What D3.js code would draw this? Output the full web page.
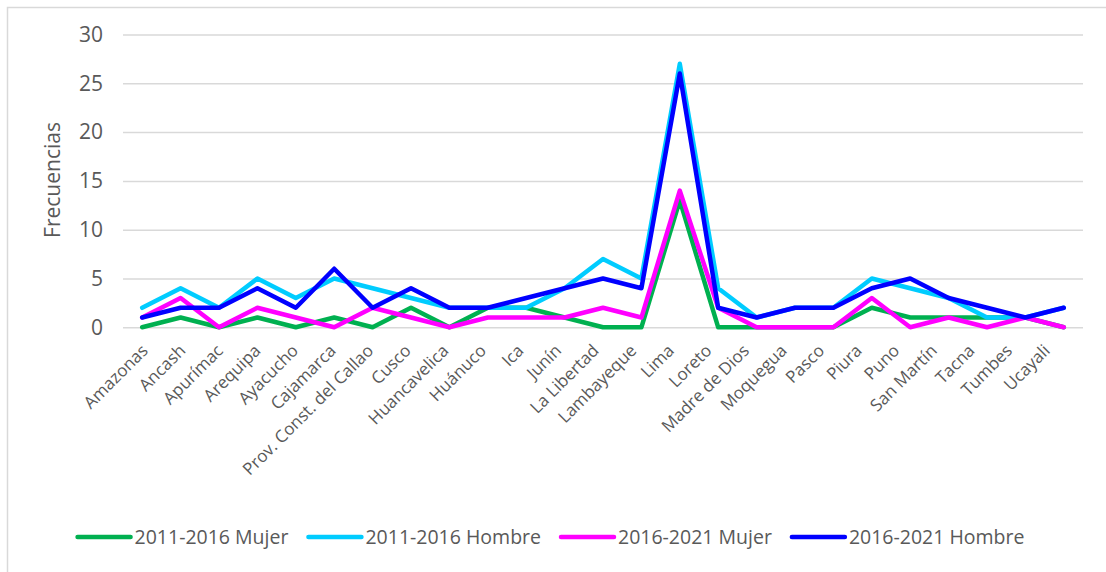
<!DOCTYPE html>
<html>
<head>
<meta charset="utf-8">
<script src="https://cdn.jsdelivr.net/npm/d3@7"></script>
<style>
  body { margin: 0; background: #fff; }
  svg { display: block; font-family: "Open Sans", "Noto Sans", sans-serif; }
</style>
</head>
<body>
<div class="chart-section"></div>
<script>
const categories = [
  "Amazonas", "Ancash", "Apurímac", "Arequipa", "Ayacucho", "Cajamarca",
  "Prov. Const. del Callao", "Cusco", "Huancavelica", "Huánuco", "Ica", "Junín",
  "La Libertad", "Lambayeque", "Lima", "Loreto", "Madre de Dios", "Moquegua",
  "Pasco", "Piura", "Puno", "San Martín", "Tacna", "Tumbes", "Ucayali",
];
const seriesNames = ["2011-2016 Mujer", "2011-2016 Hombre", "2016-2021 Mujer", "2016-2021 Hombre"];
const mujer2011 = [0, 1, 0, 1, 0, 1, 0, 2, 0, 2, 2, 1, 0, 0, 13, 0, 0, 0, 0, 2, 1, 1, 1, 1, 0];
const hombre2011 = [2, 4, 2, 5, 3, 5, 4, 3, 2, 2, 2, 4, 7, 5, 27, 4, 1, 2, 2, 5, 4, 3, 1, 1, 2];
const mujer2016 = [1, 3, 0, 2, 1, 0, 2, 1, 0, 1, 1, 1, 2, 1, 14, 2, 0, 0, 0, 3, 0, 1, 0, 1, 0];
const hombre2016 = [1, 2, 2, 4, 2, 6, 2, 4, 2, 2, 3, 4, 5, 4, 26, 2, 1, 2, 2, 4, 5, 3, 2, 1, 2];
const yTicks = [0, 5, 10, 15, 20, 25, 30];

const colors = ["#00b050", "#00ccff", "#ff00ff", "#0000ff"];
const width = 1106, height = 572;
const marginLeft = 123, marginRight = 23, marginTop = 34.5, plotBottom = 327.3;

const series = seriesNames.map((name, i) => ({
  name,
  color: colors[i],
  values: [mujer2011, hombre2011, mujer2016, hombre2016][i],
}));

const svg = d3.select(".chart-section")
  .append("svg")
  .attr("width", width)
  .attr("height", height);

// outer border
svg.append("rect")
  .attr("x", 7.5).attr("y", 7.5)
  .attr("width", width).attr("height", height - 3)
  .attr("fill", "none")
  .attr("stroke", "#d9d9d9")
  .attr("stroke-width", 1.5);

const xScale = d3.scaleBand()
  .domain(categories)
  .range([marginLeft, width - marginRight]);
const xPos = (d) => xScale(d) + xScale.bandwidth() / 2;

const yScale = d3.scaleLinear()
  .domain([0, 30])
  .range([plotBottom, marginTop]);

// gridlines + y labels
const yAxis = d3.axisLeft(yScale)
  .tickValues(yTicks)
  .tickSize(-(width - marginRight - marginLeft))
  .tickPadding(20);

const yG = svg.append("g")
  .attr("transform", `translate(${marginLeft},0)`)
  .call(yAxis);
yG.select(".domain").remove();
yG.selectAll(".tick line").attr("stroke", "#d9d9d9").attr("stroke-width", 1.5);
yG.selectAll(".tick text")
  .attr("fill", "#595959")
  .attr("font-size", 21)
  .attr("font-family", "Open Sans");

svg.append("text")
  .text("Frecuencias")
  .attr("transform", `translate(60,180) rotate(-90)`)
  .attr("text-anchor", "middle")
  .attr("fill", "#595959")
  .attr("font-size", 21);

// category labels (Excel spreads them a bit tighter than the points)
const xLabel = d3.scalePoint()
  .domain(categories)
  .range([140, 1042]);
const xAxis = d3.axisBottom(xLabel).tickSize(0).tickPadding(0);
const xG = svg.append("g")
  .attr("transform", `translate(0,${plotBottom + 16})`)
  .call(xAxis);
xG.select(".domain").remove();
xG.selectAll(".tick text")
  .attr("fill", "#595959")
  .attr("font-size", 17)
  .attr("font-family", "Open Sans")
  .attr("text-anchor", "end")
  .attr("dy", "0.7em")
  .attr("y", 0)
  .attr("transform", "rotate(-45)");

// lines
const line = d3.line()
  .x((d, i) => xPos(categories[i]))
  .y((d) => yScale(d));

svg.append("g")
  .selectAll("path")
  .data(series)
  .enter()
  .append("path")
  .attr("d", (d) => line(d.values))
  .attr("fill", "none")
  .attr("stroke", (d) => d.color)
  .attr("stroke-width", 4.5)
  .attr("stroke-linejoin", "round")
  .attr("stroke-linecap", "round");

// legend
const legend = svg.append("g").attr("class", "legend");
const items = legend.selectAll("g")
  .data(series)
  .enter()
  .append("g");
items.append("line")
  .attr("x1", 0).attr("x2", 53)
  .attr("y1", 0).attr("y2", 0)
  .attr("stroke", (d) => d.color)
  .attr("stroke-width", 4.5)
  .attr("stroke-linecap", "round");
items.append("text")
  .text((d) => d.name)
  .attr("x", 57)
  .attr("dy", "0.35em")
  .attr("fill", "#595959")
  .attr("font-size", 19.5);

let cursor = 0;
items.each(function () {
  const w = 57 + this.querySelector("text").getComputedTextLength();
  d3.select(this).attr("data-x", cursor);
  cursor += w + 20;
});
const total = cursor - 20;
const startX = 551 - total / 2;
items.attr("transform", function () {
  return `translate(${startX + Number(this.getAttribute("data-x"))},537)`;
});
</script>
</body>
</html>
